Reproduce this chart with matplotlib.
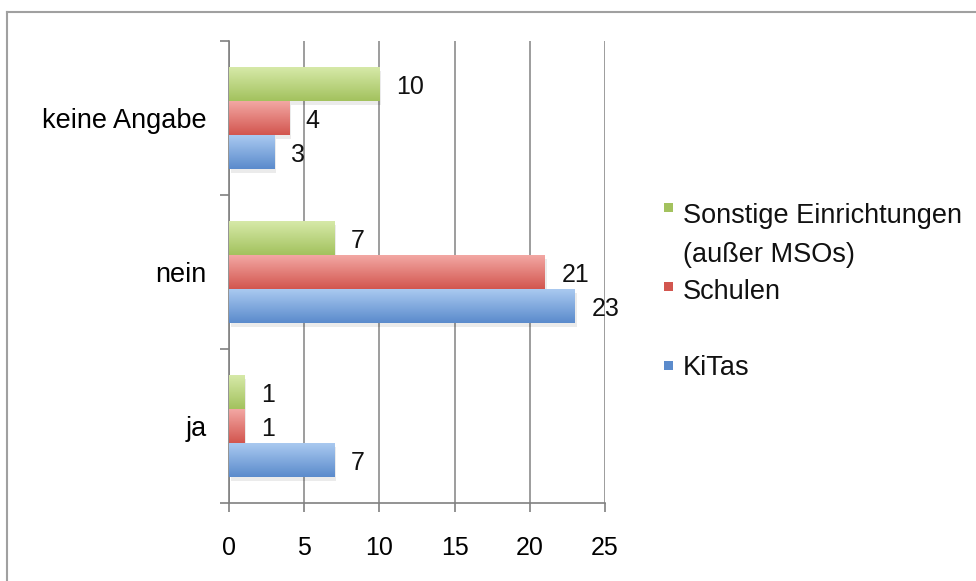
import matplotlib
matplotlib.use('Agg')
import matplotlib.pyplot as plt
from matplotlib.colors import LinearSegmentedColormap
from matplotlib.patches import Rectangle
from matplotlib.lines import Line2D
import numpy as np

categories = ['ja', 'nein', 'keine Angabe']
series = ['KiTas', 'Schulen', 'Sonstige Einrichtungen\n(außer MSOs)']
kitas = [7, 23, 3]
schulen = [1, 21, 4]
sonstige = [1, 7, 10]
xticks = [0, 5, 10, 15, 20, 25]

plt.rcParams['font.family'] = ['Liberation Sans', 'DejaVu Sans']

# (light top, dark bottom) for the Office-like gradient
colors = [('#a9c9f0', '#5b8bcc'), ('#f3a7a3', '#d2564f'), ('#d6e9a8', '#a3c25e')]
values = [kitas, schulen, sonstige]

fig = plt.figure(figsize=(9.76, 5.81), dpi=100)
ax = fig.add_axes([229 / 976, 1 - 503 / 581, 376 / 976, 462 / 581])

h = 0.22
offsets = [-h, 0, h]
y = np.arange(len(categories))
for vals, off, (c_top, c_bot) in zip(values, offsets, colors):
    cmap = LinearSegmentedColormap.from_list('g', [c_bot, c_top])
    bars = ax.barh(y + off, vals, height=h, color='none', zorder=3)
    for b, v in zip(bars, vals):
        x0, y0 = b.get_x(), b.get_y()
        w, hh = b.get_width(), b.get_height()
        # soft shadow
        ax.add_patch(Rectangle((x0 + 0.12, y0 - 0.025), w, hh, color='#000000',
                               alpha=0.08, lw=0, zorder=2))
        grad = np.linspace(0, 1, 50).reshape(-1, 1)
        ax.imshow(grad, extent=[x0, x0 + w, y0, y0 + hh], origin='lower',
                  aspect='auto', cmap=cmap, zorder=3, interpolation='bilinear')
        ax.annotate(str(v), (x0 + w, y0 + hh / 2), xytext=(12, -2),
                    textcoords='offset points', va='center', ha='left',
                    fontsize=18, color='#111111')

ax.set_xlim(0, 25)
ax.set_ylim(-0.5, 2.5)
ax.set_xticks(xticks)
ax.set_xticklabels([str(t) for t in xticks], fontsize=18)
ax.set_yticks([-0.5, 0.5, 1.5, 2.5])
ax.set_yticklabels([])
ax.set_yticks(y, minor=True)
ax.set_yticklabels(categories, minor=True, fontsize=19.5)
ax.tick_params(axis='y', which='minor', length=0, pad=16)
ax.tick_params(axis='y', which='major', length=6.5, width=1.2, color='#808080')
ax.tick_params(axis='x', length=6.5, width=1.2, color='#808080', pad=17)
ax.grid(axis='x', color='#8c8c8c', lw=1.2, zorder=0)
for s in ['top', 'right']:
    ax.spines[s].set_visible(False)
for s in ['left', 'bottom']:
    ax.spines[s].set_color('#808080')
    ax.spines[s].set_linewidth(1.2)

# legend drawn by hand (uneven spacing as in the original)
leg_y = [(375, 365), (299, 286.5), (223, 207.5)]
for (ty, sy), (c_top, c_bot), name in zip(leg_y, colors, series):
    fig.patches.append(Rectangle((664 / 976, 1 - (sy + 4.5) / 581), 9 / 976, 9 / 581,
                                 transform=fig.transFigure, color=c_bot, lw=0))
    for i, line in enumerate(name.split('\n')):
        fig.text(683 / 976, 1 - (ty + 39 * i) / 581, line, fontsize=19.5,
                 va='baseline', ha='left', color='#111111')

# outer frame
fig.add_artist(Line2D([7 / 976, 7 / 976], [0, 1 - 12 / 581], transform=fig.transFigure,
                      color='#a0a0a0', lw=1.5))
fig.add_artist(Line2D([7 / 976, 1], [1 - 12 / 581, 1 - 12 / 581], transform=fig.transFigure,
                      color='#a0a0a0', lw=1.5))

fig.savefig('out.png', dpi=100)
